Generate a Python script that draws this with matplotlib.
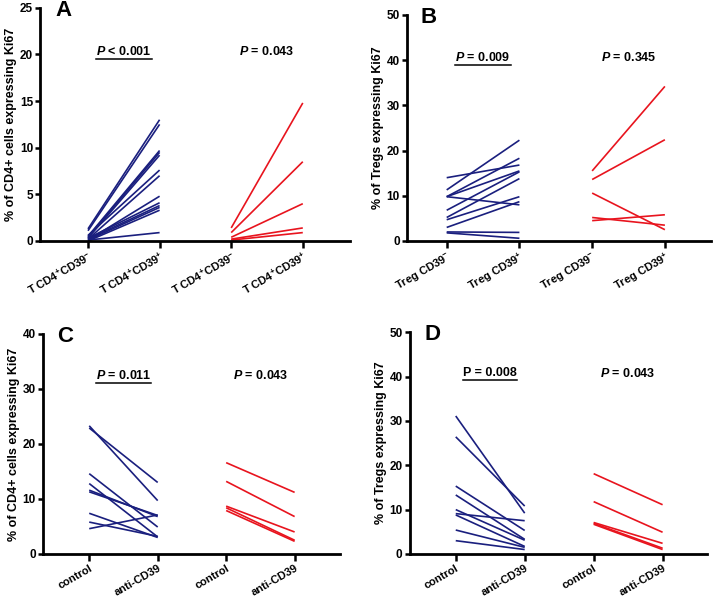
import matplotlib
matplotlib.use("Agg")
import matplotlib.pyplot as plt
from matplotlib.lines import Line2D

plt.rcParams['font.family'] = ['Liberation Sans', 'DejaVu Sans']
plt.rcParams['font.weight'] = 'bold'
plt.rcParams['mathtext.fontset'] = 'custom'
plt.rcParams['mathtext.rm'] = 'Liberation Sans:bold'
plt.rcParams['mathtext.bf'] = 'Liberation Sans:bold'
plt.rcParams['mathtext.it'] = 'Liberation Sans:bold:italic'
plt.rcParams['mathtext.default'] = 'bf'

BLUE = '#1a1f7e'
RED = '#e8141e'

# ---------------- data ----------------
A_blue_pre = [1.3, 1.1, 0.5, 0.4, 0.3, 0.6, 0.2, 0.1, 0.3, 0.2, 0.1, 0.0, 0.1]
A_blue_post = [13.0, 12.5, 9.7, 9.5, 9.2, 7.6, 7.0, 4.8, 4.1, 3.8, 3.6, 3.3, 0.9]
A_red_pre = [1.4, 0.9, 0.4, 0.2, 0.1]
A_red_post = [14.8, 8.5, 4.0, 1.4, 0.9]

B_blue_pre = [14.0, 11.3, 9.8, 9.8, 9.8, 6.8, 5.2, 4.7, 3.0, 2.0, 1.8]
B_blue_post = [16.8, 22.3, 18.3, 15.5, 8.0, 15.3, 13.8, 9.8, 8.7, 1.9, 0.6]
B_red_pre = [15.5, 13.6, 10.6, 5.2, 4.5]
B_red_post = [34.2, 22.4, 2.5, 3.5, 5.8]

C_blue_pre = [23.3, 22.9, 14.6, 12.8, 11.6, 11.3, 7.4, 5.8, 4.6]
C_blue_post = [9.7, 13.0, 4.9, 3.1, 6.8, 7.0, 3.0, 3.2, 7.1]
C_red_pre = [16.6, 13.2, 8.7, 8.4, 7.9]
C_red_post = [11.2, 6.8, 4.0, 2.5, 2.3]

D_blue_pre = [31.1, 26.4, 15.3, 13.3, 10.0, 9.1, 8.8, 5.4, 3.0]
D_blue_post = [9.2, 10.8, 5.3, 3.3, 3.1, 7.5, 1.7, 1.5, 1.0]
D_red_pre = [18.1, 11.8, 7.1, 6.9, 6.7]
D_red_post = [11.1, 4.9, 2.4, 1.3, 1.0]

A_labels = [r"T CD4$^{+}$CD39$^{-}$", r"T CD4$^{+}$CD39$^{+}$",
            r"T CD4$^{+}$CD39$^{-}$", r"T CD4$^{+}$CD39$^{+}$"]
B_labels = [r"Treg CD39$^{-}$", r"Treg CD39$^{+}$",
            r"Treg CD39$^{-}$", r"Treg CD39$^{+}$"]
CD_labels = ["control", "anti-CD39", "control", "anti-CD39"]

A_p = [r"$\mathit{P}$ < 0.001", r"$\mathit{P}$ = 0.043"]
B_p = [r"$\mathit{P}$ = 0.009", r"$\mathit{P}$ = 0.345"]
C_p = [r"$\mathit{P}$ = 0.011", r"$\mathit{P}$ = 0.043"]
D_p = ["P = 0.008", r"$\mathit{P}$ = 0.043"]

fig = plt.figure(figsize=(7.16, 5.98), dpi=100)

panels = [
    dict(rect=[0.0559, 0.597, 0.433, 0.390], letter='A', ymax=25, step=5,
         blue=(A_blue_pre, A_blue_post), red=(A_red_pre, A_red_post),
         labels=A_labels, ylabel="% of CD4+ cells expressing Ki67",
         p=A_p, py=20.3, xlim=(0.33, 4.66), lx=0.05),
    dict(rect=[0.568, 0.597, 0.4246, 0.378], letter='B', ymax=50, step=10,
         blue=(B_blue_pre, B_blue_post), red=(B_red_pre, B_red_post),
         labels=B_labels, ylabel="% of Tregs expressing Ki67",
         p=B_p, py=40.5, xlim=(0.45, 4.63), lx=0.045),
    dict(rect=[0.0596, 0.0736, 0.415, 0.368], letter='C', ymax=40, step=10,
         blue=(C_blue_pre, C_blue_post), red=(C_red_pre, C_red_post),
         labels=CD_labels, ylabel="% of CD4+ cells expressing Ki67",
         p=C_p, py=32.4, xlim=(0.32, 4.66), lx=0.05),
    dict(rect=[0.572, 0.0736, 0.416, 0.371], letter='D', ymax=50, step=10,
         blue=(D_blue_pre, D_blue_post), red=(D_red_pre, D_red_post),
         labels=CD_labels, ylabel="% of Tregs expressing Ki67",
         p=D_p, py=40.7, xlim=(0.33, 4.65), lx=0.05),
]

underline_texts = []
for pn in panels:
    ax = fig.add_axes(pn['rect'])
    for a, b in zip(*pn['blue']):
        ax.plot([1, 2], [a, b], color=BLUE, lw=1.2, solid_capstyle='butt')
    for a, b in zip(*pn['red']):
        ax.plot([3, 4], [a, b], color=RED, lw=1.2, solid_capstyle='butt')
    ax.set_xlim(*pn['xlim'])
    ax.set_ylim(0, pn['ymax'])
    ax.set_yticks(range(0, pn['ymax'] + 1, pn['step']))
    ax.set_xticks([1, 2, 3, 4])
    ax.set_xticklabels(pn['labels'], rotation=30, ha='right',
                       rotation_mode='anchor', fontsize=8, fontweight='bold')
    for lab in ax.get_yticklabels():
        lab.set_fontsize(8.5)
        lab.set_fontweight('bold')
    ax.spines['top'].set_visible(False)
    ax.spines['right'].set_visible(False)
    ax.spines['left'].set_linewidth(2.0)
    ax.spines['bottom'].set_linewidth(2.0)
    ax.tick_params(axis='y', direction='out', length=3.5, width=1.8, pad=1.5)
    ax.tick_params(axis='x', direction='out', length=5, width=1.8, pad=1.5)
    ax.set_ylabel(pn['ylabel'], fontsize=9, fontweight='bold', labelpad=2)
    ax.text(pn['lx'], 0.99, pn['letter'], transform=ax.transAxes,
            fontsize=16, fontweight='bold', va='center', ha='left')
    t1 = ax.text(1.5, pn['py'], pn['p'][0], ha='center', va='center',
                 fontsize=9, fontweight='bold')
    ax.text(3.5, pn['py'], pn['p'][1], ha='center', va='center',
            fontsize=9, fontweight='bold')
    underline_texts.append(t1)

fig.canvas.draw()
renderer = fig.canvas.get_renderer()
inv = fig.transFigure.inverted()
for t in underline_texts:
    bb = t.get_window_extent(renderer)
    (x0, y0) = inv.transform((bb.x0, bb.y0 - 1))
    (x1, _) = inv.transform((bb.x1, bb.y0 - 1))
    fig.add_artist(Line2D([x0, x1], [y0, y0], transform=fig.transFigure,
                          color='black', lw=1.1))

fig.savefig("out.png", dpi=100, facecolor='white')
